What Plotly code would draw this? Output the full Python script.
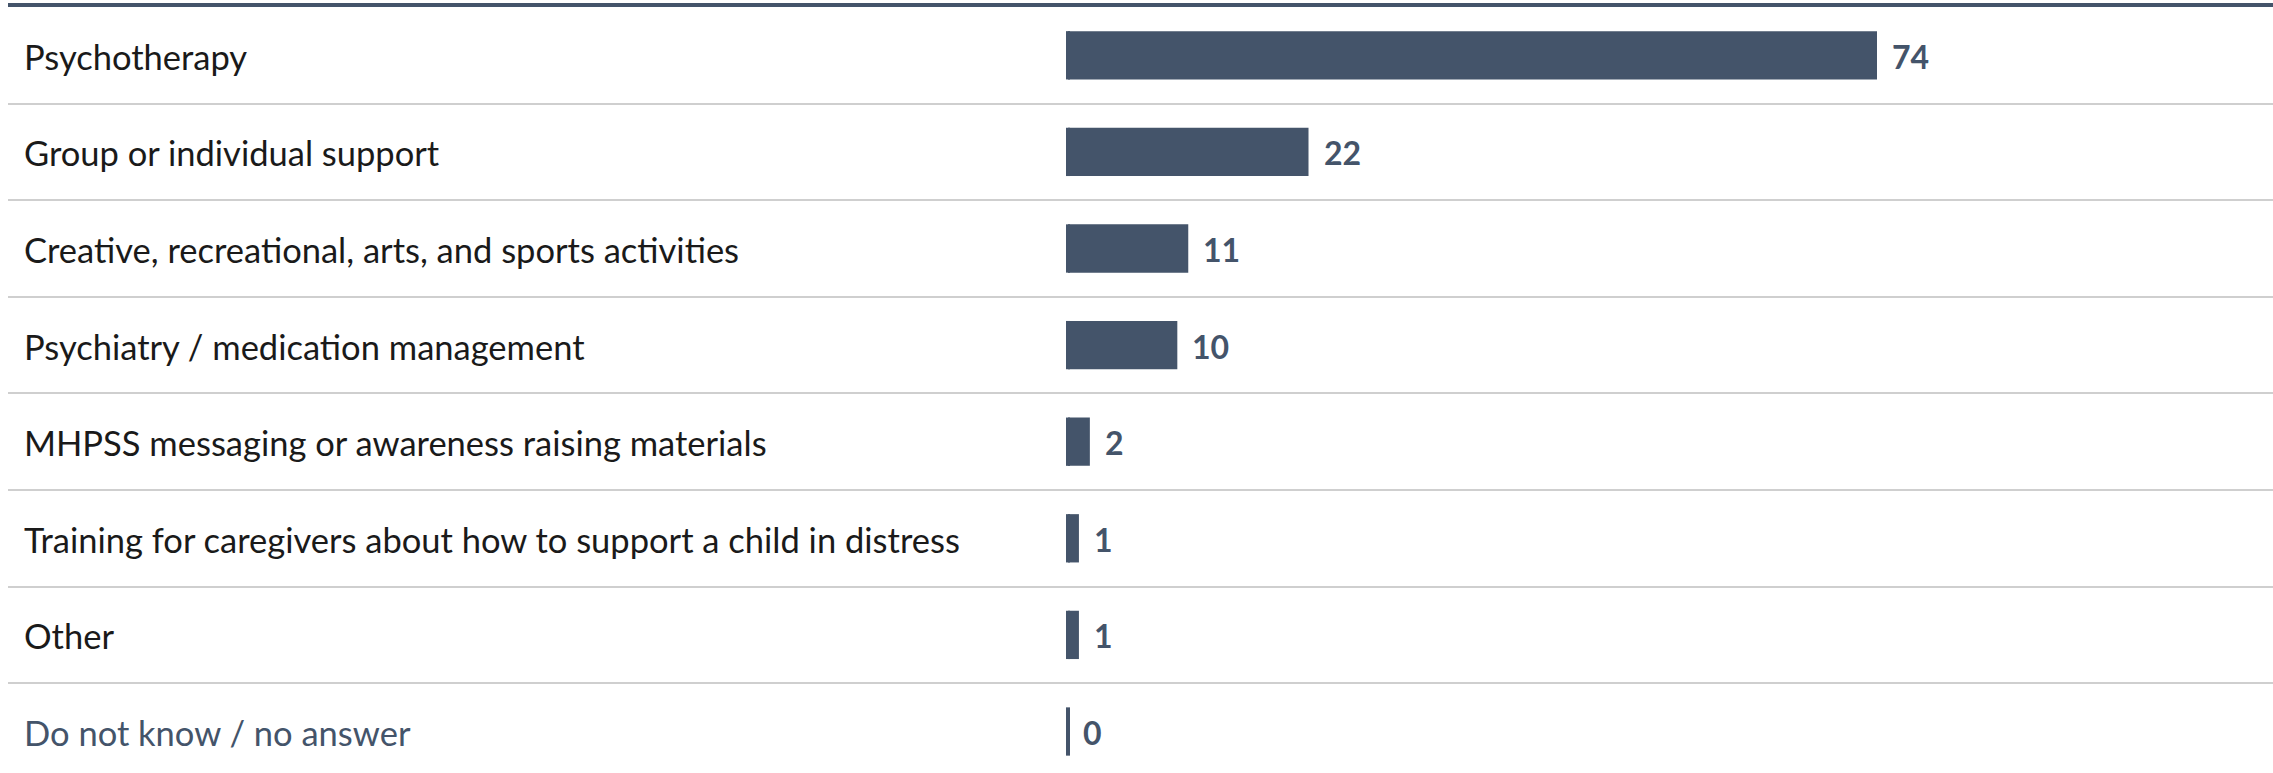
import plotly.graph_objects as go

# Survey responses: type of MHPSS service received
categories = [
    "Psychotherapy",
    "Group or individual support",
    "Creative, recreational, arts, and sports activities",
    "Psychiatry / medication management",
    "MHPSS messaging or awareness raising materials",
    "Training for caregivers about how to support a child in distress",
    "Other",
    "Do not know / no answer",
]
values = [74, 22, 11, 10, 2, 1, 1, 0]

BAR = "#44546A"
LABEL = "#1a1a1a"
FONT = "Lato"

rows = list(range(len(categories)))

fig = go.Figure()

fig.add_trace(go.Bar(
    x=values, y=rows, orientation="h", width=0.5,
    marker=dict(color=BAR, line=dict(width=0)),
    hoverinfo="skip", showlegend=False,
))

# thin stub at the baseline so that zero-value rows still show a mark
fig.add_trace(go.Scatter(
    x=[0 for _ in values], y=rows, mode="markers",
    marker=dict(symbol="line-ns", size=34.5, line=dict(width=4, color=BAR), color=BAR),
    hoverinfo="skip", showlegend=False,
))

# value labels next to each bar
for i, v in enumerate(values):
    fig.add_annotation(
        x=v, xref="x", y=i, yref="y", text=str(v), showarrow=False,
        xanchor="left", yanchor="middle", xshift=13, yshift=-1,
        font=dict(family=FONT, size=32, color=BAR, weight="bold"),
    )

# category labels, left aligned
for i, cat in enumerate(categories):
    fig.add_annotation(
        x=0, xref="paper", y=i, yref="y", text=cat, showarrow=False,
        xanchor="left", yanchor="middle", xshift=14, yshift=-1,
        font=dict(family=FONT, size=34.5, color=BAR if i == len(categories) - 1 else LABEL),
    )

scale = 809 / 74
fig.update_layout(
    width=2273, height=773,
    margin=dict(l=8, r=0, t=7, b=0),
    paper_bgcolor="white", plot_bgcolor="white",
    xaxis=dict(
        range=[-1060 / scale, 1205 / scale], side="top",
        showgrid=False, zeroline=False, showticklabels=False, ticks="",
        showline=True, linewidth=4, linecolor=BAR,
    ),
    yaxis=dict(
        range=[-0.5 + 766 / 96.6, -0.5],
        tickvals=[i + 0.5 for i in rows[:-1]],
        showticklabels=False, ticks="", zeroline=False,
        showgrid=True, gridcolor="#cfcfcf", gridwidth=2,
    ),
)

fig.write_html("out.html")
